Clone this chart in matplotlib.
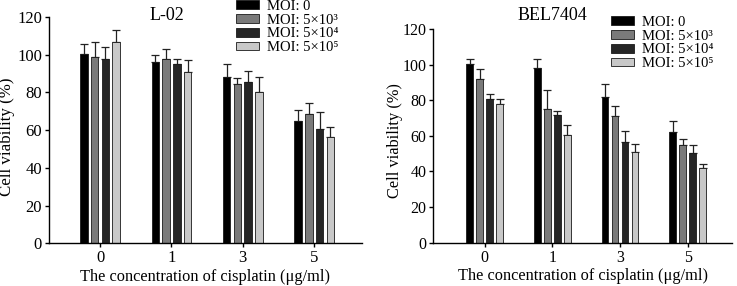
import matplotlib
matplotlib.use("Agg")
import matplotlib.pyplot as plt
import numpy as np
from matplotlib.patches import Patch

plt.rcParams['font.family'] = ['Liberation Serif', 'DejaVu Serif']

concentrations = ["0", "1", "3", "5"]
series_labels = ["MOI: 0", "MOI: 5×10³", "MOI: 5×10⁴", "MOI: 5×10⁵"]
colors = ["#000000", "#7a7a7a", "#262626", "#c8c8c8"]

l02_moi0 = [100.2, 95.9, 88.4, 64.9]
l02_moi5e3 = [98.9, 97.9, 84.7, 68.4]
l02_moi5e4 = [97.5, 95.2, 85.7, 60.8]
l02_moi5e5 = [106.9, 90.7, 80.0, 56.4]
l02_err0 = [5.4, 3.7, 6.6, 6.0]
l02_err5e3 = [8.0, 5.1, 3.1, 6.2]
l02_err5e4 = [6.5, 2.7, 5.5, 8.7]
l02_err5e5 = [6.1, 6.7, 8.2, 5.3]

bel_moi0 = [100.6, 98.1, 81.6, 62.0]
bel_moi5e3 = [91.8, 75.1, 71.0, 54.7]
bel_moi5e4 = [80.5, 71.5, 56.4, 50.6]
bel_moi5e5 = [77.7, 60.3, 50.9, 41.8]
bel_err0 = [2.8, 5.3, 7.7, 6.4]
bel_err5e3 = [5.8, 10.9, 6.0, 3.3]
bel_err5e4 = [2.8, 2.3, 6.5, 4.3]
bel_err5e5 = [3.2, 5.6, 4.7, 2.6]

W, H = 737, 286
fig = plt.figure(figsize=(W / 100, H / 100), dpi=100)

def px_axes(x0, x1, ytop, ybot):
    return fig.add_axes([x0 / W, 1 - ybot / H, (x1 - x0) / W, (ybot - ytop) / H])

def draw(ax, means, errs, pitch, width, xlim, tick_fs, ylab_fs, ylab_xy):
    x = np.arange(len(concentrations))
    n = len(means)
    for i, (m, e, c) in enumerate(zip(means, errs, colors)):
        pos = x + (i - (n - 1) / 2) * pitch
        ax.bar(pos, m, width=width, color=c, edgecolor="#1a1a1a", linewidth=0.6, zorder=2)
        ax.errorbar(pos, m, yerr=[np.zeros(len(m)), e], fmt='none', ecolor="#222222",
                    elinewidth=0.9, capsize=3, capthick=0.9, zorder=1)
    ax.set_xlim(*xlim)
    ax.set_ylim(0, 120)
    ax.set_yticks(range(0, 121, 20))
    ax.set_xticks(x)
    ax.set_xticklabels(concentrations)
    for s in ("top", "right"):
        ax.spines[s].set_visible(False)
    for s in ("left", "bottom"):
        ax.spines[s].set_linewidth(1.0)
    ax.tick_params(axis='both', direction='out', length=3, width=1, labelsize=tick_fs, pad=2)
    ax.set_ylabel("Cell viability (%)", fontsize=ylab_fs)
    ax.yaxis.set_label_coords(*ylab_xy)
    ax.set_xlabel("The concentration of cisplatin (μg/ml)", fontsize=11.8, labelpad=2)

ax1 = px_axes(49, 362, 17, 243.3)
draw(ax1, [l02_moi0, l02_moi5e3, l02_moi5e4, l02_moi5e5],
     [l02_err0, l02_err5e3, l02_err5e4, l02_err5e5], 0.151, 0.105, (-0.715, 3.67),
     12, 12.2, (-0.109, 0.47))

ax2 = px_axes(433.3, 731.7, 29, 242.7)
draw(ax2, [bel_moi0, bel_moi5e3, bel_moi5e4, bel_moi5e5],
     [bel_err0, bel_err5e3, bel_err5e4, bel_err5e5], 0.148, 0.098, (-0.76, 3.65),
     11.5, 11.8, (-0.102, 0.48))

fig.text(167 / W, 1 - 15 / H, "L-02", ha="center", va="center", fontsize=13)
fig.text(552 / W, 1 - 16 / H, "BEL7404", ha="center", va="center", fontsize=13)

handles = [Patch(facecolor=c, edgecolor="#1a1a1a", linewidth=0.6) for c in colors]
for (lx, ly) in [(236, 0), (611, 16)]:
    fig.legend(handles, series_labels, loc="upper left",
               bbox_to_anchor=(lx / W, 1 - ly / H), frameon=False, fontsize=10.5,
               handlelength=1.6, handleheight=0.55, handletextpad=0.55,
               labelspacing=0.05, borderpad=0, borderaxespad=0)

fig.savefig("out.png", dpi=100)
